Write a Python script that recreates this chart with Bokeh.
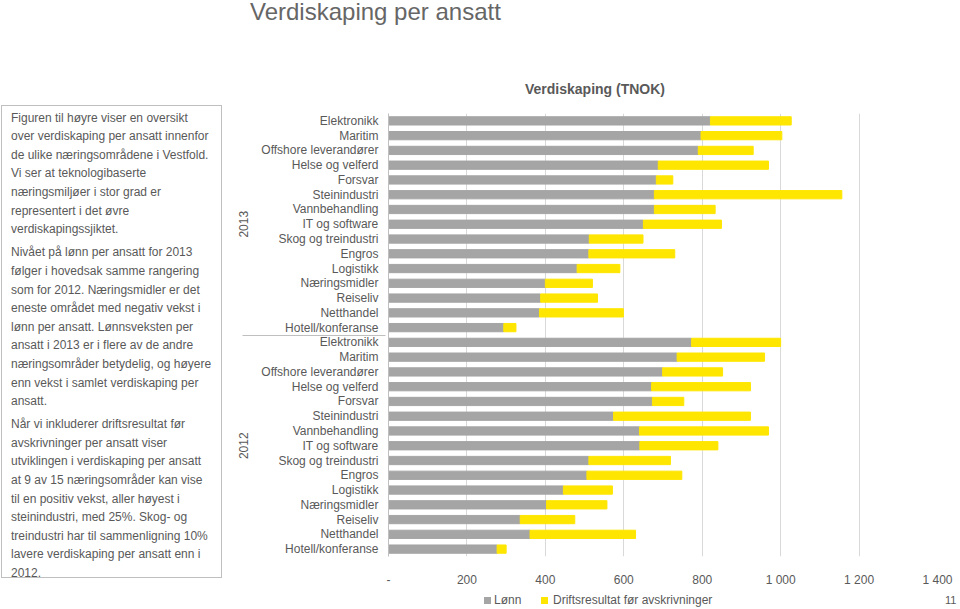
from bokeh.plotting import figure
from bokeh.layouts import row, column
from bokeh.models import (FactorRange, Range1d, FixedTicker, ColumnDataSource, Div)
from bokeh.embed import file_html
from bokeh.resources import INLINE

# ---------------- data ----------------
years = ["2013", "2012"]
categories = ["Elektronikk", "Maritim", "Offshore leverandører", "Helse og velferd",
              "Forsvar", "Steinindustri", "Vannbehandling", "IT og software",
              "Skog og treindustri", "Engros", "Logistikk", "Næringsmidler",
              "Reiseliv", "Netthandel", "Hotell/konferanse"]
lonn_2013 = [821, 797, 790, 688, 683, 678, 678, 650, 512, 511, 481, 400, 388, 385, 294]
drift_2013 = [206, 206, 140, 281, 42, 478, 155, 199, 137, 219, 109, 120, 145, 214, 31]
lonn_2012 = [773, 736, 699, 671, 673, 574, 640, 641, 511, 506, 446, 403, 336, 361, 277]
drift_2012 = [227, 223, 153, 252, 80, 349, 329, 199, 208, 242, 125, 154, 139, 269, 23]
series_names = ["Lønn", "Driftsresultat før avskrivninger"]
x_ticks = [0, 200, 400, 600, 800, 1000, 1200, 1400]
x_tick_labels = ["-", "200", "400", "600", "800", "1 000", "1 200", "1 400"]

main_title = "Verdiskaping per ansatt"
chart_title = "Verdiskaping (TNOK)"
page_number = "11"
paragraphs = [
    ["Figuren til høyre viser en oversikt",
     "over verdiskaping per ansatt innenfor",
     "de ulike næringsområdene i Vestfold.",
     "Vi ser at teknologibaserte",
     "næringsmiljøer i stor grad er",
     "representert i det øvre",
     "verdiskapingssjiktet."],
    ["Nivået på lønn per ansatt for 2013",
     "følger i hovedsak samme rangering",
     "som for 2012. Næringsmidler er det",
     "eneste området med negativ vekst i",
     "lønn per ansatt. Lønnsveksten per",
     "ansatt i 2013 er i flere av de andre",
     "næringsområder betydelig, og høyere",
     "enn vekst i samlet verdiskaping per",
     "ansatt."],
    ["Når vi inkluderer driftsresultat før",
     "avskrivninger per ansatt viser",
     "utviklingen i verdiskaping per ansatt",
     "at 9 av 15 næringsområder kan vise",
     "til en positiv vekst, aller høyest i",
     "steinindustri, med 25%. Skog- og",
     "treindustri har til sammenligning 10%",
     "lavere verdiskaping per ansatt enn i",
     "2012."],
]

GRAY = "#A5A5A5"
YELLOW = "#FFE600"
TXT = "#595959"
FONT = "Liberation Sans"

W, H = 960, 609
LEFT_W = 225
RIGHT_W = W - LEFT_W
TOP_H = 100
BOT_H = 20
FRAME_L, FRAME_R, FRAME_T, FRAME_B = 388, 937, 113, 560
CSS_FONT = "font-family:'Liberation Sans',Arial,sans-serif;"

# ---------------- left text box ----------------
par_html = "".join(
    '<p style="margin:0 0 4.5px 0;padding:0;">' + "<br>".join(par) + "</p>"
    for par in paragraphs)
box_html = (
    '<div style="margin:105px 0 0 1px;width:221px;height:473px;box-sizing:border-box;'
    'border:1px solid #BFBFBF;padding:2.7px 0 0 9px;' + CSS_FONT +
    'font-size:12px;line-height:18.6px;color:#595959;white-space:nowrap;">'
    + par_html + "</div>")
textbox = Div(text=box_html, width=LEFT_W, height=H, margin=0)

# ---------------- titles strip ----------------
top_html = (
    '<div style="position:relative;width:%dpx;height:%dpx;%s">' % (RIGHT_W, TOP_H, CSS_FONT)
    + '<span style="position:absolute;left:%dpx;top:-2px;font-size:24px;line-height:28px;'
      'color:#666666;white-space:nowrap;">%s</span>' % (250 - LEFT_W, main_title)
    + '<span style="position:absolute;left:%dpx;top:80px;font-size:14px;line-height:18px;'
      'font-weight:bold;color:#595959;white-space:nowrap;">%s</span>' % (525 - LEFT_W, chart_title)
    + "</div>")
top_div = Div(text=top_html, width=RIGHT_W, height=TOP_H, margin=0)

# ---------------- legend strip ----------------
def sq(x, color):
    return ('<span style="position:absolute;left:%dpx;top:8px;width:7px;height:7px;'
            'background:%s;"></span>' % (x - LEFT_W, color))

def lab(x, text, size=12):
    return ('<span style="position:absolute;left:%dpx;top:4px;font-size:%dpx;line-height:15px;'
            'color:#595959;white-space:nowrap;">%s</span>' % (x - LEFT_W, size, text))

bot_html = (
    '<div style="position:relative;width:%dpx;height:%dpx;%s">' % (RIGHT_W, BOT_H, CSS_FONT)
    + sq(484, GRAY) + lab(494, series_names[0])
    + sq(541, YELLOW) + lab(553, series_names[1])
    + lab(945, page_number, 11)
    + "</div>")
bot_div = Div(text=bot_html, width=RIGHT_W, height=BOT_H, margin=0)

# ---------------- chart ----------------
lonn = {"2013": lonn_2013, "2012": lonn_2012}
drift = {"2013": drift_2013, "2012": drift_2012}
factors, l_vals, t_vals = [], [], []
for yr in reversed(years):
    for i in reversed(range(len(categories))):
        factors.append((yr, categories[i]))
        l_vals.append(lonn[yr][i])
        t_vals.append(lonn[yr][i] + drift[yr][i])
src = ColumnDataSource(dict(factor=factors, lonn=l_vals, total=t_vals))

p = figure(width=RIGHT_W, height=H - TOP_H - BOT_H,
           y_range=FactorRange(*factors, factor_padding=0, group_padding=0, range_padding=0),
           x_range=Range1d(0, 1400), title=None,
           output_backend="svg", toolbar_location=None,
           min_border_left=FRAME_L - LEFT_W, min_border_right=W - FRAME_R,
           min_border_top=FRAME_T - TOP_H, min_border_bottom=H - BOT_H - FRAME_B, margin=0)
p.outline_line_color = None

p.hbar(y="factor", left=0, right="lonn", height=0.56, color=GRAY, source=src)
p.hbar(y="factor", left="lonn", right="total", height=0.56, color=YELLOW, source=src)

xa = p.xaxis[0]
xa.ticker = FixedTicker(ticks=x_ticks)
xa.major_label_overrides = {t: s for t, s in zip(x_ticks, x_tick_labels)}
xa.axis_line_color = None
xa.major_tick_line_color = None
xa.minor_tick_line_color = None
xa.major_label_standoff = 10
xa.major_label_text_font_size = "12px"
xa.major_label_text_color = TXT
xa.major_label_text_font = FONT

ya = p.yaxis[0]
ya.axis_line_color = "#BFBFBF"
ya.major_tick_line_color = None
ya.minor_tick_line_color = None
ya.major_tick_out = 0
ya.major_label_standoff = 10
ya.major_label_text_font_size = "12px"
ya.major_label_text_color = TXT
ya.major_label_text_font = FONT
ya.group_text_font_size = "12px"
ya.group_text_font_style = "normal"
ya.group_text_color = TXT
ya.group_text_font = FONT
ya.group_label_orientation = "parallel"
ya.separator_line_color = "#BFBFBF"
ya.separator_line_width = 1

p.xgrid.ticker = FixedTicker(ticks=x_ticks)
p.xgrid.grid_line_color = "#D9D9D9"
p.ygrid.grid_line_color = None

layout = row(textbox, column(top_div, p, bot_div))
open("out.html", "w").write(file_html(layout, INLINE))
